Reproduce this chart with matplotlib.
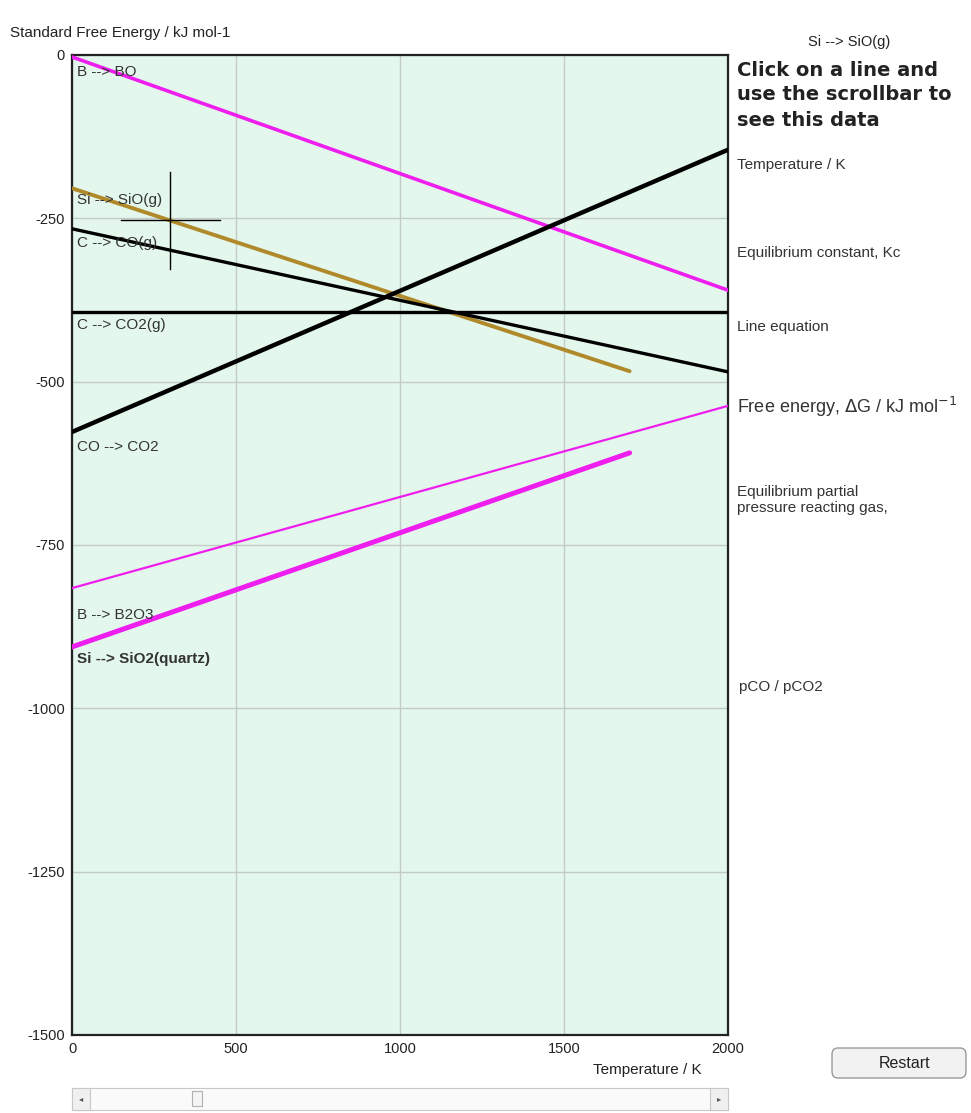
import matplotlib
matplotlib.use("Agg")
import matplotlib.pyplot as plt
from matplotlib.patches import FancyBboxPatch, Rectangle

plt.rcParams["font.family"] = ["Liberation Sans", "DejaVu Sans"]
plt.rcParams["axes.unicode_minus"] = False

# ---------------- data ----------------
reactions = ["B --> BO", "Si --> SiO(g)", "C --> CO(g)", "C --> CO2(g)",
             "CO --> CO2", "B --> B2O3", "Si --> SiO2(quartz)"]
t_start = [0, 0, 0, 0, 0, 0, 0]
t_end = [2000, 1700, 2000, 2000, 2000, 2000, 1700]
g_start = [-3, -204, -266, -393, -577, -816, -906]
g_end = [-360, -484, -485, -393, -145, -537, -609]
label_g = [-26, -222, -288, -413, -600, -857, -925]

x_ticks = [0, 500, 1000, 1500, 2000]
y_ticks = [0, -250, -500, -750, -1000, -1250, -1500]

cursor_t = 300
cursor_g = -253

info_labels = ["Temperature / K", "Equilibrium constant, Kc", "Line equation"]
info_y_px = [165, 253, 327]

# ---------------- style ----------------
MAG = "#ee1fee"
BROWN = "#b08a2a"
colors = [MAG, BROWN, "black", "black", "black", MAG, MAG]
widths = [2.6, 2.8, 2.4, 2.4, 3.2, 1.6, 3.6]
SMALL = 11

fig = plt.figure(figsize=(9.71, 11.13), dpi=100)
ax = fig.add_axes([72 / 971, 1 - 1035 / 1113, 656 / 971, 980 / 1113])
ax.set_facecolor("#e4f7ed")
ax.set_xlim(0, 2000)
ax.set_ylim(-1500, 0)
ax.set_xticks(x_ticks)
ax.set_yticks(y_ticks)
ax.grid(True, color="#c2cbc5", linewidth=1.0)
ax.set_axisbelow(True)
for s in ax.spines.values():
    s.set_linewidth(1.6)
    s.set_color("#222222")
ax.tick_params(length=0, labelsize=10.5, colors="#222222", pad=5)

for name, t0, t1, g0, g1, c, w, lg in zip(reactions, t_start, t_end, g_start,
                                          g_end, colors, widths, label_g):
    ax.plot([t0, t1], [g0, g1], color=c, linewidth=w, solid_capstyle="round", zorder=3)
    ax.text(16, lg, name, fontsize=SMALL, color="#333333", ha="left", va="center",
            zorder=4, fontweight="bold" if "quartz" in name else "normal")

# cursor cross
ax.plot([cursor_t - 150, cursor_t + 150], [cursor_g, cursor_g], color="black", lw=1.0, zorder=5)
ax.plot([cursor_t, cursor_t], [cursor_g - 74, cursor_g + 74], color="black", lw=1.0, zorder=5)

# axis titles
fig.text(10 / 971, 1 - 33 / 1113, "Standard Free Energy / kJ mol-1", fontsize=SMALL,
         color="#222222", ha="left", va="center")
fig.text(702 / 971, 1 - 1070 / 1113, "Temperature / K", fontsize=SMALL,
         color="#222222", ha="right", va="center")

# right side panel
fig.text(808 / 971, 1 - 42 / 1113, "Si --> SiO(g)", fontsize=10.5, color="#222222",
         ha="left", va="center")
for i, line in enumerate(["Click on a line and", "use the scrollbar to", "see this data"]):
    fig.text(737 / 971, 1 - (70 + 25 * i) / 1113, line, fontsize=14,
             fontweight="bold", color="#222222", ha="left", va="center",
             family="DejaVu Sans")
for lab, ypx in zip(info_labels, info_y_px):
    fig.text(737 / 971, 1 - ypx / 1113, lab, fontsize=SMALL, color="#333333",
             ha="left", va="center")
fig.text(737 / 971, 1 - 407 / 1113, r"Free energy, $\Delta$G / kJ mol$^{-1}$", fontsize=13,
         color="#333333", ha="left", va="center")
fig.text(737 / 971, 1 - 492 / 1113, "Equilibrium partial", fontsize=SMALL,
         color="#333333", ha="left", va="center")
fig.text(737 / 971, 1 - 508 / 1113, "pressure reacting gas,", fontsize=SMALL,
         color="#333333", ha="left", va="center")
fig.text(739 / 971, 1 - 687 / 1113, "pCO / pCO2", fontsize=SMALL,
         color="#333333", ha="left", va="center")

# Restart button
btn = FancyBboxPatch((832 / 971, 1 - 1078 / 1113), 134 / 971, 30 / 1113,
                     boxstyle="round,pad=0,rounding_size=0.006", transform=fig.transFigure,
                     facecolor="#f2f2f2", edgecolor="#9a9a9a", linewidth=1.0)
fig.patches.append(btn)
fig.text(905 / 971, 1 - 1063 / 1113, "Restart", fontsize=11.5, color="#222222",
         ha="center", va="center")

# scrollbar
sb = Rectangle((72 / 971, 1 - 1110 / 1113), 656 / 971, 22 / 1113, transform=fig.transFigure,
               facecolor="#fafafa", edgecolor="#c8c8c8", linewidth=0.8)
fig.patches.append(sb)
for x0 in (72, 710):
    fig.patches.append(Rectangle((x0 / 971, 1 - 1110 / 1113), 18 / 971, 22 / 1113,
                                 transform=fig.transFigure, facecolor="#f0f0f0",
                                 edgecolor="#c8c8c8", linewidth=0.8))
fig.text(81 / 971, 1 - 1099 / 1113, "◂", fontsize=6, color="#555555", ha="center",
         va="center", family="DejaVu Sans")
fig.text(719 / 971, 1 - 1099 / 1113, "▸", fontsize=6, color="#555555", ha="center",
         va="center", family="DejaVu Sans")
fig.patches.append(Rectangle((192 / 971, 1 - 1106 / 1113), 10 / 971, 15 / 1113,
                             transform=fig.transFigure, facecolor="#f4f4f4",
                             edgecolor="#b0b0b0", linewidth=0.8))

fig.savefig("out.png", dpi=100)
